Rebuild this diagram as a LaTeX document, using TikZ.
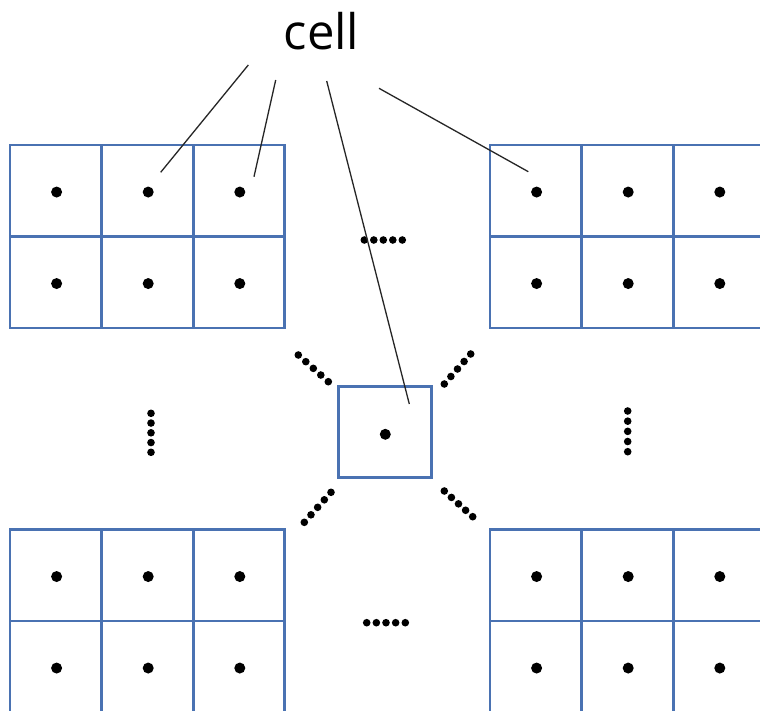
\documentclass[tikz,border=0pt]{standalone}
\usepackage{fontspec}
\setmainfont{Open Sans}
\usetikzlibrary{calc}
\definecolor{gridblue}{HTML}{4A72B2}
\begin{document}
\begin{tikzpicture}[x=1pt,y=-1pt,
  cellbox/.style={draw=gridblue, line width=2.8pt, minimum width=91.6pt,
                  minimum height=91.5pt, inner sep=0pt},
  bigdot/.style={circle, fill=black, inner sep=0pt, minimum size=11pt},
  smalldot/.style={circle, fill=black, inner sep=0pt, minimum size=7.6pt},
  leader/.style={draw=black!85, line width=1.3pt}]
\clip (0,0) rectangle (760,711);
\fill[white] (0,0) rectangle (760,711);

% four 2x3 blocks of cells, each cell with its centre point
\foreach \g/\gx/\gy in {tl/10/145, tr/490/145, bl/10/529.5, br/490/529.5}{
  \foreach \r in {0,1}{
    \foreach \c in {0,1,2}{
      \node[cellbox] (\g-\r\c) at ({\gx+45.8+91.6*\c},{\gy+45.75+91.5*\r}) {};
      \node[bigdot] (\g-d\r\c) at ([shift={(0.8,1.3)}]\g-\r\c.center) {};
    }
  }
}

% single cell in the middle
\node[cellbox, minimum width=93pt, minimum height=91pt] (mid) at (385,432.2) {};
\node[bigdot] (mid-dot) at (385.3,434.3) {};

% ellipsis rows of small dots
\foreach \e/\ax/\ay/\bx/\by in {
    top/364.3/240/402.3/240,
    bot/366.7/622.7/405.3/622.7,
    lft/151/413.3/151/452.3,
    rgt/627.7/411/627.7/451.7,
    ul/298.3/355/328.3/381.7,
    ur/444.3/384/470.7/354,
    ll/331/492.3/304.3/522.3,
    lr/444.3/491/472.7/516.7}{
  \coordinate (\e-a) at (\ax,\ay);
  \coordinate (\e-b) at (\bx,\by);
  \foreach \i in {0,...,4}{
    \node[smalldot] (\e-\i) at ($(\e-a)!\i/4!(\e-b)$) {};
  }
}

% label and its leader lines
\node[font=\fontsize{49}{50}\selectfont, inner sep=0pt] (label) at (321.5,31.5) {cell};

\coordinate (l1s) at (248.3,65);   \coordinate (l1e) at (160.7,172.3);
\coordinate (l2s) at (275.7,80);   \coordinate (l2e) at (254,176.7);
\coordinate (l3s) at (326.7,81);   \coordinate (l3e) at (409.3,404);
\coordinate (l4s) at (379,88.3);   \coordinate (l4e) at (528.3,171.7);

\draw[leader] (l1s) -- (l1e);
\draw[leader] (l2s) -- (l2e);
\draw[leader] (l3s) -- (l3e);
\draw[leader] (l4s) -- (l4e);
\end{tikzpicture}
\end{document}
